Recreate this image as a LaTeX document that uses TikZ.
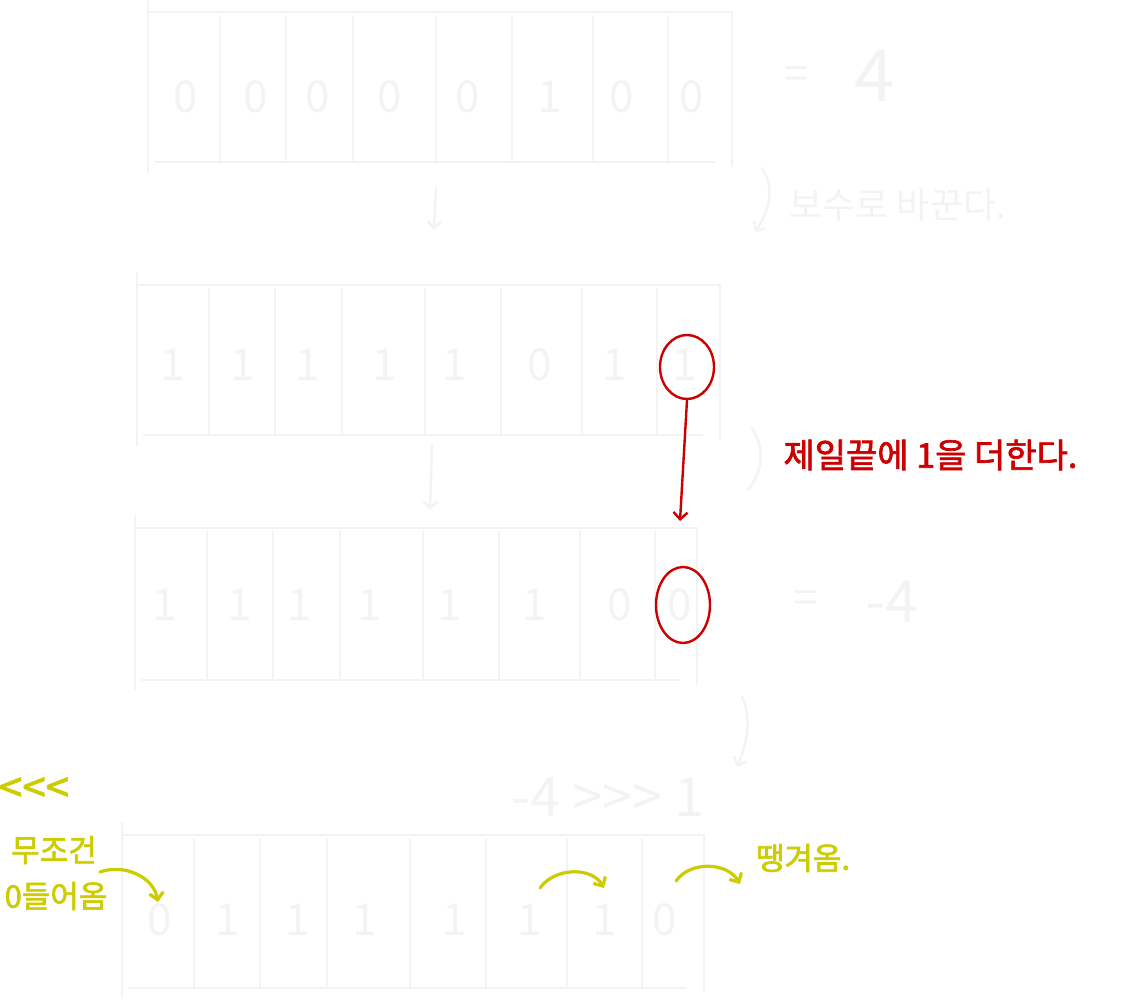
\documentclass[tikz,border=0pt]{standalone}
\usepackage{fontspec}
\usepackage{xcolor}
\newfontfamily\krfont{Noto Sans CJK KR}
\newfontfamily\krthick{Noto Sans CJK KR}[FakeBold=2]
\usetikzlibrary{arrows.meta}
\usetikzlibrary{shapes.geometric}
\usetikzlibrary{calc}

\definecolor{faint}{HTML}{F3F3F3}
\definecolor{markred}{HTML}{CC0000}
\definecolor{noteyellow}{HTML}{CCCC00}

\tikzset{
  faint/.style={draw=faint, line width=2.4pt, line cap=round},
  barb/.style={-{Straight Barb[length=7pt,width=14pt]}},
  bit/.style={text=faint, font=\krfont\fontsize{44}{44}\selectfont},
  faintnote/.style={text=faint, font=\krfont\fontsize{36}{36}\selectfont},
  redmark/.style={draw=markred, line width=2.4pt, line cap=round},
  rednote/.style={text=markred, font=\krthick\fontsize{34}{34}\selectfont},
  ring/.style={draw=markred, line width=2.4pt, ellipse, inner sep=0pt},
  yellowmark/.style={draw=noteyellow, line width=3.2pt, line cap=round},
  yellownote/.style={text=noteyellow, font=\krthick\fontsize{31}{31}\selectfont}
}

\begin{document}
\begin{tikzpicture}[x=1pt,y=-1pt]

        \useasboundingbox (0,0) rectangle (1128,1000);

        % Frames of the four registers
        \foreach \L/\T/\R/\B in {148/12/732/162, 137/285/720/435, 135/528/697/680, 122/835/704/988}
        {
          \draw[faint] (\L,\T-12) -- (\L,\B+10);
          \draw[faint] (\L,\T) -- (\R,\T) -- (\R,\B+4);
          \draw[faint] (\L+7,\B) -- (\R-18,\B);
          \foreach \dx in {72,138,205,288,364,445,520}
            \draw[faint] (\L+\dx,\T+4) -- (\L+\dx,\B);
        }

        % Bits
        \foreach \x/\d [count=\i] in {186/0,256/0,318/0,390/0,468/0,550/1,622/0,692/0}
          \node[bit] (a\i) at (\x,97) {\d};
        \foreach \x/\d [count=\i] in {173/1,243/1,308/1,385/1,455/1,540/0,615/1,685/1}
          \node[bit] (b\i) at (\x,365) {\d};
        \foreach \x/\d [count=\i] in {165/1,240/1,300/1,370/1,450/1,535/1,620/0,680/0}
          \node[bit] (c\i) at (\x,605) {\d};
        \foreach \x/\d [count=\i] in {160/0,228/1,298/1,365/1,455/1,530/1,605/1,665/0}
          \node[bit] (d\i) at (\x,920) {\d};

        % Values
        \node[bit] (eqa) at (797,78) {=};
        \node[text=faint, font=\krfont\fontsize{72}{72}\selectfont] (vala) at (874,76) {4};
        \node[bit] (eqc) at (806,602) {=};
        \node[text=faint, font=\krfont\fontsize{58}{58}\selectfont] (valc) at (892,602) {-4};
        \node[text=faint, font=\krfont\fontsize{54}{54}\selectfont] (shift) at (608,797) {-4 >>> 1};

        % Steps between the registers
        \coordinate (downa) at (436,188);
        \coordinate (downb) at (434,230);
        \draw[faint, barb] (downa) -- (downb);
        \coordinate (downc) at (432,445);
        \coordinate (downd) at (430,510);
        \draw[faint, barb] (downc) -- (downd);

        \coordinate (bra) at (762,168);
        \coordinate (brb) at (755,232);
        \draw[faint, barb] (bra) .. controls (776,190) and (768,212) .. (brb);
        \coordinate (brc) at (752,428);
        \coordinate (brd) at (748,490);
        \draw[faint] (brc) .. controls (766,450) and (762,472) .. (brd);
        \coordinate (bre) at (742,697);
        \coordinate (brf) at (737,767);
        \draw[faint, barb] (bre) .. controls (753,720) and (746,745) .. (brf);

        \node[faintnote, anchor=west] (comp) at (786,205) {보수로 바꾼다.};

        % Adding one
        \node[ring, minimum width=54pt, minimum height=64pt] (ringb) at (687,367) {};
        \node[ring, minimum width=54pt, minimum height=76pt] (ringc) at (683,605) {};
        \coordinate (addtip) at (680,521);
        \draw[redmark, barb] (ringb.south) -- (addtip);
        \node[rednote, anchor=west] (addone) at (780,455) {제일끝에 1을 더한다.};

        % Shifting
        \node[yellownote, font=\krthick\fontsize{42}{42}\selectfont] (lsh) at (34,790) {<<<};
        \node[yellownote] (always) at (54,850) {무조건};
        \node[yellownote] (zeros) at (56,896) {0들어옴};
        \node[yellownote] (pull) at (803,858) {땡겨옴.};

        \coordinate (ya) at (100,872);
        \coordinate (yb) at (158,902);
        \draw[yellowmark, barb] (ya) to[out=20,in=100] (yb);
        \coordinate (yc) at (540,888);
        \coordinate (yd) at (604,888);
        \draw[yellowmark, barb] (yc) to[out=55,in=120] (yd);
        \coordinate (ye) at (676,881);
        \coordinate (yf) at (740,884);
        \draw[yellowmark, barb] (ye) to[out=55,in=120] (yf);

\end{tikzpicture}
\end{document}
